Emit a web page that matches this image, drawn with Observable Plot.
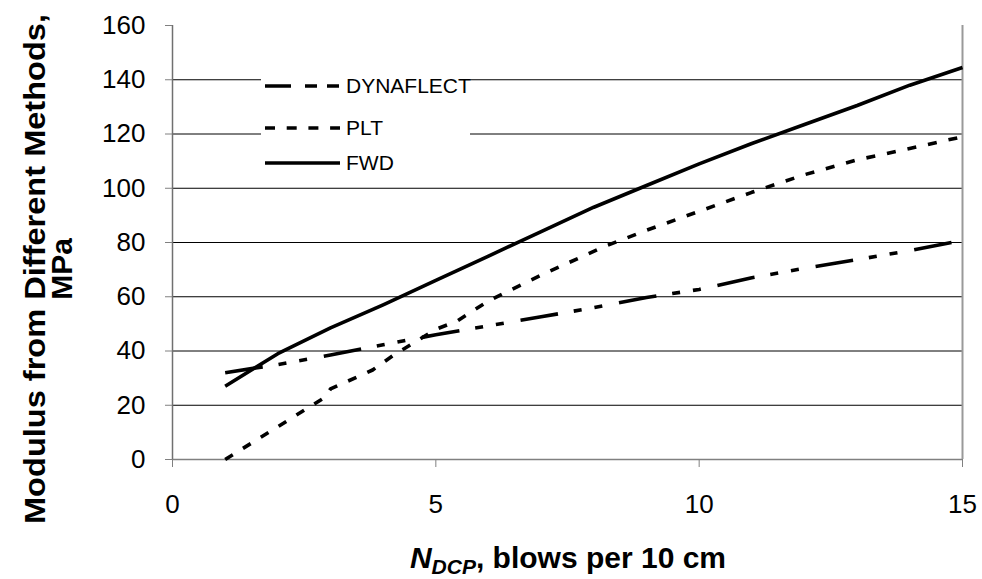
<!DOCTYPE html>
<html><head><meta charset="utf-8">
<script src="https://cdn.jsdelivr.net/npm/d3@7"></script>
<script src="https://cdn.jsdelivr.net/npm/@observablehq/plot@0.6"></script>
<style>
body{margin:0;background:#fff}
#chart svg{font-family:"Liberation Sans",Arial,sans-serif;display:block}
</style>
</head><body><div id="chart"></div>
<script>
// ---- data ----
const seriesNames = ["DYNAFLECT", "PLT", "FWD"];
const xTicks = [0, 5, 10, 15];
const yTicks = [0, 20, 40, 60, 80, 100, 120, 140, 160];

const dynaX = [1, 2, 3, 4, 5, 6, 7, 8, 9, 10, 11, 12, 13, 14, 15];
const dynaY = [32, 35, 38.5, 42.3, 46, 49.3, 52.6, 56, 59.7, 62.7, 67, 70.5, 73.7, 77, 80.8];

const pltX = [1, 2.9, 3, 3.8, 4.2, 5, 5.4, 6, 7, 8.2, 9, 10, 11, 12, 13, 13.5, 15];
const pltY = [0, 23, 26, 33, 38.5, 48, 51, 58.5, 68, 78.5, 84.5, 91.5, 98.5, 105, 110.5, 112.5, 119];

const fwdX = [1, 2, 3, 4, 5, 6, 7, 8, 9, 10, 11, 12, 13, 14, 15];
const fwdY = [27, 39, 48.5, 57, 66, 75, 84, 93, 101, 109, 116.5, 123.5, 130.5, 138, 144.5];

const toRows = (xs, ys) => xs.map((x, i) => ({x, y: ys[i]}));
const dyna = toRows(dynaX, dynaY);
const plt = toRows(pltX, pltY);
const fwd = toRows(fwdX, fwdY);

const dashes = {DYNAFLECT: "38,16,8,13,8,17", PLT: "9,12", FWD: null};
const lw = 3.6;

const chart = Plot.plot({
  width: 982,
  height: 579,
  marginLeft: 172,
  marginRight: 20,
  marginTop: 25,
  marginBottom: 120,
  style: {fontFamily: "'Liberation Sans', Arial, sans-serif", fontSize: "26px", color: "#000", background: "#fff"},
  x: {domain: [0, 15]},
  y: {domain: [0, 160]},
  marks: [
    Plot.ruleY(yTicks.filter(d => d > 0 && d < 160), {stroke: "#000", strokeWidth: 1}),
    Plot.ruleY([0], {stroke: "#808080", strokeWidth: 1.5}),
    Plot.ruleX([0], {stroke: "#707070", strokeWidth: 1.5}),
    Plot.ruleX([15], {stroke: "#999", strokeWidth: 2}),
    Plot.axisX({ticks: xTicks, tickSize: 8, tickPadding: 27, stroke: "#808080", fill: "#000", fontSize: 26, label: null, tickFormat: d => String(d)}),
    Plot.axisY({ticks: yTicks, tickSize: 7, tickPadding: 20, stroke: "#808080", fill: "#000", fontSize: 26, label: null, tickFormat: d => String(d)}),
    Plot.line(dyna, {x: "x", y: "y", stroke: "#000", strokeWidth: lw, strokeDasharray: dashes.DYNAFLECT, strokeLinecap: "butt"}),
    Plot.line(plt, {x: "x", y: "y", stroke: "#000", strokeWidth: lw, strokeDasharray: dashes.PLT, strokeLinecap: "butt"}),
    Plot.line(fwd, {x: "x", y: "y", stroke: "#000", strokeWidth: lw, strokeLinecap: "butt"})
  ]
});
document.getElementById("chart").appendChild(chart);

const svg = d3.select(chart);

// legend
const lg = svg.append("g").attr("text-anchor", "start");
lg.append("rect").attr("x", 261).attr("y", 71).attr("width", 209).attr("height", 100).attr("fill", "#fff");
const legendDash = {DYNAFLECT: "26,14,12,10,12", PLT: "10,11.7", FWD: null};
const legendY = [86, 128, 163];
seriesNames.forEach((name, i) => {
  const l = lg.append("line").attr("x1", 265).attr("x2", 340).attr("y1", legendY[i]).attr("y2", legendY[i])
    .attr("stroke", "#000").attr("stroke-width", lw);
  if (legendDash[name]) l.attr("stroke-dasharray", legendDash[name]);
  lg.append("text").attr("x", 346).attr("y", legendY[i]).attr("dy", "0.35em")
    .attr("font-size", 21).attr("fill", "#000").attr("text-anchor", "start").text(name);
});

// x title
const xt = svg.append("text").attr("x", 568).attr("y", 568).attr("text-anchor", "middle")
  .attr("font-size", 30).attr("font-weight", "bold").attr("fill", "#000");
xt.append("tspan").attr("font-style", "italic").text("N");
xt.append("tspan").attr("font-style", "italic").attr("font-size", 21).attr("dy", 6).text("DCP");
xt.append("tspan").attr("dy", -6).text(", blows per 10 cm");

// y title
const yt = svg.append("g").attr("font-size", 30).attr("font-weight", "bold").attr("fill", "#000").attr("text-anchor", "middle");
yt.append("text").attr("transform", "translate(45,269) rotate(-90)")
  .attr("textLength", 510).attr("lengthAdjust", "spacingAndGlyphs").text("Modulus from Different Methods,");
yt.append("text").attr("transform", "translate(72,269) rotate(-90)").text("MPa");
</script>
</body></html>
